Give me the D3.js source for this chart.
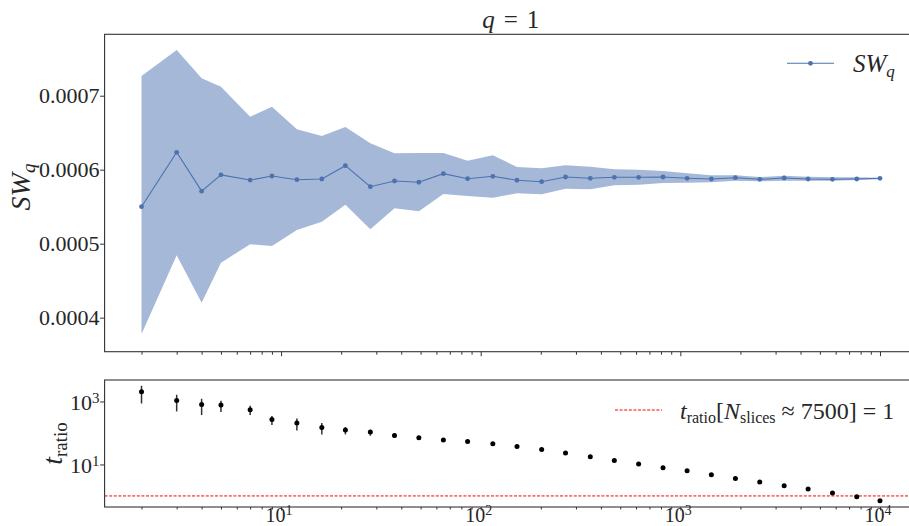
<!DOCTYPE html>
<html>
<head>
<meta charset="utf-8">
<script src="https://cdn.jsdelivr.net/npm/d3@7"></script>
<style>
  body { margin: 0; background: #fff; }
  svg { display: block; }
</style>
</head>
<body>
<svg id="chart" width="909" height="526" font-family="'Liberation Serif', 'DejaVu Serif', 'Times New Roman', 'Noto Serif', serif"></svg>
<script>
// ---------- data ----------
const nSlices = [2,3,4,5,7,9,12,16,21,28,37,49,65,86,115,152,202,266,354,467,618,819,1081,1430,1887,2499,3311,4365,5780,7650,10000];
const swMean = [0.000550,0.0006235,0.000571,0.000593,0.000586,0.0005915,0.0005865,0.0005874,0.0006054,0.000577,0.0005847,0.000583,0.0005946,0.0005878,0.0005911,0.0005857,0.0005838,0.0005901,0.0005884,0.0005897,0.0005897,0.0005901,0.0005884,0.0005874,0.0005892,0.000587,0.0005888,0.0005874,0.000587,0.0005874,0.0005884];
const swUpper = [0.0007266,0.0007618,0.0007235,0.0007122,0.0006716,0.0006851,0.0006546,0.0006455,0.0006577,0.0006357,0.0006222,0.0006226,0.0006226,0.0006122,0.0006195,0.0006036,0.000602,0.0006059,0.0006041,0.0006005,0.0006,0.0005982,0.0005951,0.0005924,0.0005924,0.0005901,0.0005919,0.0005905,0.0005897,0.0005897,0.0005892];
const swLower = [0.000378,0.0004843,0.0004203,0.0004743,0.0004992,0.0004969,0.0005185,0.0005297,0.0005527,0.0005195,0.0005478,0.0005438,0.0005672,0.0005645,0.0005622,0.0005681,0.0005668,0.0005743,0.0005735,0.0005789,0.0005797,0.000582,0.0005824,0.000583,0.0005851,0.0005843,0.0005851,0.0005851,0.0005851,0.0005861,0.000587];
const tRatio = [2032,1076,803,769,546,268,206,150,124,107,83,70.5,59.5,53.7,45.4,37.3,29.9,23,17.5,13.4,10.3,7.86,6.3,4.71,3.6,2.76,2.11,1.66,1.24,0.944,0.705];
const tHi = [3148,1633,1218,1052,730,344,289,206,154,126,99,76,63,56,47,38.8,31,23.9,18.2,13.9,10.7,8.2,6.55,4.9,3.74,2.87,2.19,1.73,1.29,0.98,0.73];
const tLo = [864,482,370,460,370,178,120,90,90,81.5,70,64,56,51,43.6,35.8,28.7,22.1,16.8,12.9,9.9,7.55,6.05,4.52,3.46,2.65,2.03,1.6,1.19,0.91,0.68];
const swTicks = [0.0004,0.0005,0.0006,0.0007];
const swTickLabels = ["0.0004","0.0005","0.0006","0.0007"];
const xMajorExp = [1,2,3,4];
const tMajorExp = [1,3];
const refRatio = 1;

// ---------- layout ----------
const svg = d3.select("#chart");
const L = 104.6, R = 916.9;
const top1 = 34.3, bot1 = 351.7;
const top2 = 380, bot2 = 507;
const ink = "#333333";
const txt = "#262626";
const blue = "#4C72B0";

const lx0 = Math.log10(d3.min(nSlices)), lx1 = Math.log10(d3.max(nSlices));
const mx = (lx1 - lx0) * 0.05;
const x = d3.scaleLog().domain([Math.pow(10, lx0 - mx), Math.pow(10, lx1 + mx)]).range([L, R]);

const y1 = d3.scaleLinear().domain([0.000354, 0.000783]).range([bot1, top1]);

const ly0 = Math.log10(d3.min(tLo)), ly1 = Math.log10(d3.max(tHi));
const my = (ly1 - ly0) * 0.05;
const y2 = d3.scaleLog().domain([Math.pow(10, ly0 - my), Math.pow(10, ly1 + my)]).range([bot2, top2]);

const xMinor = [];
for (let e = 0; e <= 4; e++) for (let m = 2; m <= 9; m++) {
  const v = m * Math.pow(10, e);
  if (v >= x.domain()[0] && v <= x.domain()[1]) xMinor.push(v);
}
const xMajor = xMajorExp.map(e => Math.pow(10, e));

// ---------- top panel ----------
const g1 = svg.append("g");
const band = nSlices.map((n, i) => ({n, lo: swLower[i], hi: swUpper[i]}));
g1.append("path")
  .attr("d", d3.area().x(d => x(d.n)).y0(d => y1(d.lo)).y1(d => y1(d.hi))(band))
  .attr("fill", blue).attr("fill-opacity", 0.5).attr("stroke", "none");

const meanPts = nSlices.map((n, i) => ({n, v: swMean[i]}));
g1.append("path")
  .attr("d", d3.line().x(d => x(d.n)).y(d => y1(d.v))(meanPts))
  .attr("fill", "none").attr("stroke", blue).attr("stroke-width", 1.1);
g1.selectAll("circle.m").data(meanPts).join("circle")
  .attr("cx", d => x(d.n)).attr("cy", d => y1(d.v)).attr("r", 2.4).attr("fill", blue);

function styleAxis(sel) {
  sel.select(".domain").remove();
  sel.selectAll("line").attr("stroke", ink).attr("stroke-width", 1);
  sel.selectAll("text").remove();
}

svg.append("g").attr("transform", `translate(0,${bot1})`)
  .call(d3.axisBottom(x).tickValues(xMinor).tickSize(3).tickFormat(""))
  .call(styleAxis);
svg.append("g").attr("transform", `translate(0,${bot1})`)
  .call(d3.axisBottom(x).tickValues(xMajor).tickSize(4.5).tickFormat(""))
  .call(styleAxis);
svg.append("g").attr("transform", `translate(${L},0)`)
  .call(d3.axisLeft(y1).tickValues(swTicks).tickSize(4.5).tickFormat(""))
  .call(styleAxis);
swTicks.forEach((t, i) => {
  svg.append("text").attr("x", 99.5).attr("y", y1(t) + 7.3).attr("fill", txt)
    .attr("text-anchor", "end").attr("font-size", 22).text(swTickLabels[i]);
});

svg.append("rect").attr("x", L).attr("y", top1).attr("width", R - L).attr("height", bot1 - top1)
  .attr("fill", "none").attr("stroke", ink).attr("stroke-width", 1.1);

const title = svg.append("text").attr("x", (L + R) / 2).attr("y", 28.3).attr("fill", txt)
  .attr("text-anchor", "middle").attr("font-size", 25);
title.append("tspan").attr("font-style", "italic").text("q");
title.append("tspan").attr("dx", 9).text("=");
title.append("tspan").attr("dx", 9).text("1");

const yl1 = svg.append("text").attr("transform", `translate(30,${(top1 + bot1) / 2 - 6}) rotate(-90)`)
  .attr("text-anchor", "middle").attr("font-size", 28).attr("fill", txt);
yl1.append("tspan").attr("font-style", "italic").text("SW");
yl1.append("tspan").attr("font-style", "italic").attr("font-size", 19).attr("dy", 5).text("q");

const legY = 63.3;
svg.append("line").attr("x1", 787).attr("x2", 834).attr("y1", legY).attr("y2", legY)
  .attr("stroke", blue).attr("stroke-width", 1.1);
svg.append("circle").attr("cx", 810.5).attr("cy", legY).attr("r", 2.4).attr("fill", blue);
const lt1 = svg.append("text").attr("x", 853).attr("y", 71.7).attr("font-size", 25).attr("fill", txt);
lt1.append("tspan").attr("font-style", "italic").text("SW");
lt1.append("tspan").attr("font-style", "italic").attr("font-size", 17).attr("dy", 5).text("q");

// ---------- bottom panel ----------
const g2 = svg.append("g");
g2.append("line").attr("x1", L).attr("x2", R).attr("y1", y2(refRatio)).attr("y2", y2(refRatio))
  .attr("stroke", "red").attr("stroke-width", 1).attr("stroke-dasharray", "3,1.6");

const tPts = nSlices.map((n, i) => ({n, v: tRatio[i], lo: tLo[i], hi: tHi[i]}));
g2.selectAll("line.err").data(tPts).join("line")
  .attr("x1", d => x(d.n)).attr("x2", d => x(d.n))
  .attr("y1", d => y2(d.lo)).attr("y2", d => y2(d.hi))
  .attr("stroke", ink).attr("stroke-width", 1.5);
g2.selectAll("circle.t").data(tPts).join("circle")
  .attr("cx", d => x(d.n)).attr("cy", d => y2(d.v)).attr("r", 2.5).attr("fill", "#000");

svg.append("g").attr("transform", `translate(0,${bot2})`)
  .call(d3.axisBottom(x).tickValues(xMinor).tickSize(2.5).tickFormat(""))
  .call(styleAxis);
svg.append("g").attr("transform", `translate(0,${bot2})`)
  .call(d3.axisBottom(x).tickValues(xMajor).tickSize(3.5).tickFormat(""))
  .call(styleAxis);
const tMajor = tMajorExp.map(e => Math.pow(10, e));
svg.append("g").attr("transform", `translate(${L},0)`)
  .call(d3.axisLeft(y2).tickValues(tMajor).tickSize(4.5).tickFormat(""))
  .call(styleAxis);

tMajorExp.forEach(e => {
  const t = svg.append("text").attr("x", 99.5).attr("y", y2(Math.pow(10, e)) + 9).attr("fill", txt)
    .attr("text-anchor", "end").attr("font-size", 22);
  t.append("tspan").text("10");
  t.append("tspan").attr("font-size", 15).attr("dy", -7.5).text(String(e));
});
xMajorExp.forEach(e => {
  const t = svg.append("text").attr("x", x(Math.pow(10, e)) - 2).attr("y", 521.5).attr("fill", txt)
    .attr("text-anchor", "middle").attr("font-size", 20);
  t.append("tspan").text("10");
  t.append("tspan").attr("font-size", 14).attr("dy", -7).text(String(e));
});

svg.append("rect").attr("x", L).attr("y", top2).attr("width", R - L).attr("height", bot2 - top2)
  .attr("fill", "none").attr("stroke", ink).attr("stroke-width", 1.1);

const yl2 = svg.append("text").attr("transform", `translate(62,${(top2 + bot2) / 2}) rotate(-90)`)
  .attr("text-anchor", "middle").attr("font-size", 28).attr("fill", txt);
yl2.append("tspan").attr("font-style", "italic").text("t");
yl2.append("tspan").attr("font-size", 19).attr("dy", 5).text("ratio");

const leg2Y = 410;
svg.append("line").attr("x1", 615).attr("x2", 662).attr("y1", leg2Y).attr("y2", leg2Y)
  .attr("stroke", "red").attr("stroke-width", 1).attr("stroke-dasharray", "3,1.6");
const lt2 = svg.append("text").attr("x", 680).attr("y", 419).attr("font-size", 24).attr("fill", txt);
lt2.append("tspan").attr("font-style", "italic").text("t");
lt2.append("tspan").attr("font-size", 16).attr("dy", 4).text("ratio");
lt2.append("tspan").attr("dy", -4).text("[");
lt2.append("tspan").attr("font-style", "italic").text("N");
lt2.append("tspan").attr("font-size", 16).attr("dy", 4).text("slices");
lt2.append("tspan").attr("dy", -4).text(" \u2248 7500] = 1");
</script>
</body>
</html>
